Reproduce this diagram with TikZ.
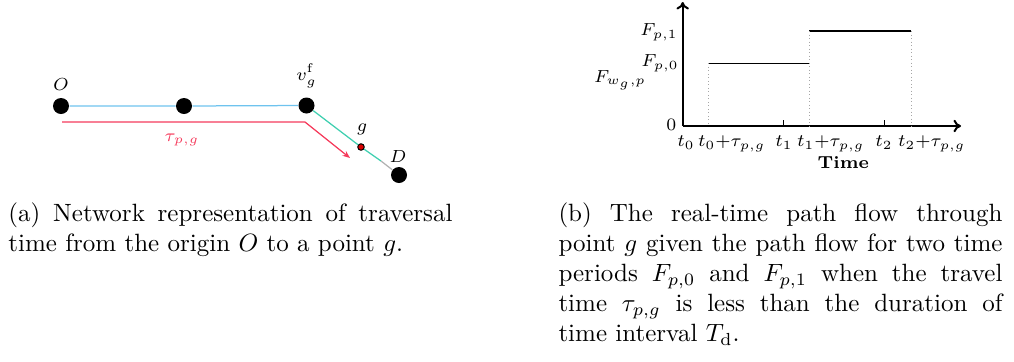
\documentclass[tikz,border=0pt]{standalone}
\usetikzlibrary{arrows.meta}
\definecolor{lineblue}{HTML}{6EC3EE}
\definecolor{lineteal}{HTML}{3FCFB0}
\definecolor{linered}{HTML}{F53B5C}
\tikzset{
  dot/.style={circle,fill=black,inner sep=0pt,minimum size=6.4pt},
  gdot/.style={circle,fill=red!85!black,draw=black,line width=0.4pt,inner sep=0pt,minimum size=2.6pt},
  lbl/.style={font=\scriptsize,inner sep=0.5pt},
  axis/.style={line width=0.8pt},
  level/.style={line width=0.6pt},
  guide/.style={densely dotted,gray!70,line width=0.4pt},
  captext/.style={inner sep=0pt,anchor=north west,align=justify,text width=177.6pt}
}
\begin{document}
\begin{tikzpicture}[x=0.4pt,y=-0.4pt]
\useasboundingbox (0,0) rectangle (1014,361);
% ---------- (a) network ----------
\node[dot] (O) at (61,106) {};
\node[dot] (M) at (184,106) {};
\node[dot] (V) at (306.5,105.5) {};
\node[gdot] (G) at (361,147) {};
\node[dot] (D) at (399,175) {};
\coordinate (Dg) at (381,161);
\node[lbl] (Ol) at (61,85) {$O$};
\node[lbl] (Vl) at (306.5,76) {$v_g^{\mathrm{f}}$};
\node[lbl] (Gl) at (362,129) {$g$};
\node[lbl] (Dl) at (398,157) {$D$};
\draw[lineblue,line width=0.5pt] (O) -- (M) -- (V);
\draw[lineteal,line width=0.5pt] (V) -- (G) -- (Dg);
\draw[gray!60,line width=0.5pt] (Dg) -- (D);
\coordinate (R0) at (62,122);
\coordinate (R1) at (305,122);
\coordinate (R2) at (350,158);
\draw[linered,line width=0.5pt,-{Stealth[length=3pt,width=2.4pt]}] (R0) -- (R1) -- (R2);
\node[lbl,text=linered] (tau) at (182,140) {$\tau_{p,g}$};
% ---------- (b) chart ----------
\coordinate (A) at (682.7,126);
\coordinate (Ytop) at (682.7,2);
\coordinate (Xend) at (961,126);
\draw[axis,-{To[length=3pt,width=5pt]}] (A) -- (Ytop);
\draw[axis,-{To[length=3pt,width=5pt]}] (A) -- (Xend);
\coordinate (L0a) at (708.3,63.3);
\coordinate (L0b) at (809.3,63.3);
\coordinate (L1a) at (809.3,31);
\coordinate (L1b) at (911,31);
\draw[level] (L0a) -- (L0b);
\draw[level] (L1a) -- (L1b);
\draw[guide] (L0a) -- (L0a |- A);
\draw[guide] (L1a) -- (L1a |- A);
\draw[guide] (L1b) -- (L1b |- A);
\coordinate (T1) at (783.3,126);
\coordinate (T2) at (884.3,126);
\draw[line width=0.6pt] (T1) -- ++(0,-6);
\draw[line width=0.6pt] (T2) -- ++(0,-6);
\node[lbl,anchor=east] (zero) at (678,125) {$0$};
\node[lbl] (F1) at (659,32) {$F_{p,1}$};
\node[lbl] (F0) at (660,63) {$F_{p,0}$};
\node[lbl] (Fw) at (620,80) {$F_{w_g,p}$};
\node[lbl,anchor=base] (t0) at (686,146.5) {$t_0$};
\node[lbl,anchor=base] (t0t) at (731.7,146.5) {$t_0{+}\tau_{p,g}$};
\node[lbl,anchor=base] (t1) at (784,146.5) {$t_1$};
\node[lbl,anchor=base] (t1t) at (830.7,146.5) {$t_1{+}\tau_{p,g}$};
\node[lbl,anchor=base] (t2) at (884,146.5) {$t_2$};
\node[lbl,anchor=base] (t2t) at (931.7,146.5) {$t_2{+}\tau_{p,g}$};
\node[lbl,anchor=base] (time) at (843.3,168) {\textbf{Time}};
% ---------- captions ----------
\node[captext] (capa) at (8,202) {(a) Network representation of traversal\linebreak time from the origin $O$ to a point $g$.};
\node[captext] (capb) at (558,202) {(b) The real-time path flow through\linebreak point $g$ given the path flow for two time\linebreak periods $F_{p,0}$ and $F_{p,1}$ when the travel\linebreak time $\tau_{p,g}$ is less than the duration of\linebreak time interval $T_{\mathrm{d}}$.};
\end{tikzpicture}
\end{document}
